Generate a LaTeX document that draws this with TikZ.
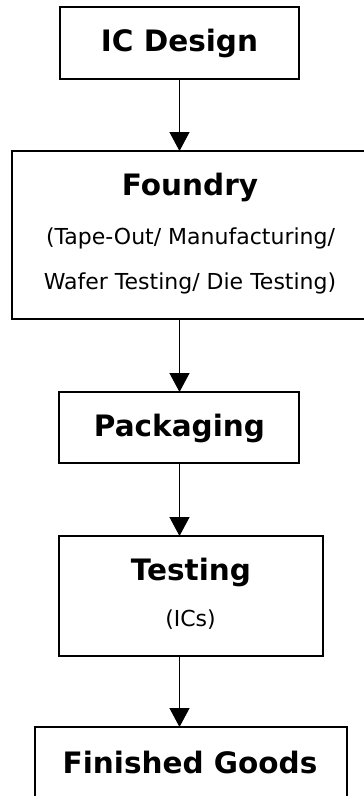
\documentclass[tikz,border=0pt]{standalone}
\usepackage{fontspec}
\setmainfont{DejaVu Sans}
\usetikzlibrary{arrows.meta}
\begin{document}
\begin{tikzpicture}[x=1pt,y=-1pt,
  box/.style={draw=black,line width=1.3pt,fill=white,inner sep=0pt},
  title/.style={font=\bfseries\fontsize{29.5}{31}\selectfont,inner sep=0pt},
  sub/.style={font=\fontsize{22}{24}\selectfont,inner sep=0pt},
  flow/.style={line width=1.2pt,-{Triangle[width=20pt,length=19pt]},shorten >=0pt}]
\clip (0,0) rectangle (364,796);
\fill[white] (0,0) rectangle (364,796);
% boxes
\draw[box] (60,7) rectangle (299,79);
\coordinate (b1) at (179.5,79);
\draw[box] (12,151) rectangle (370,319);
\coordinate (t2) at (179.5,151);
\coordinate (b2) at (179.5,319);
\draw[box] (59,392) rectangle (299,463);
\coordinate (t3) at (179.5,392);
\coordinate (b3) at (179.5,463);
\draw[box] (59,536) rectangle (323,656);
\coordinate (t4) at (179.5,536);
\coordinate (b4) at (179.5,656);
\draw[box] (35,727) rectangle (347,810);
\coordinate (t5) at (179.5,727);
% texts
\node[title] (n1) at (179.5,43) {IC Design};
\node[title] (n2) at (190,187) {Foundry};
\node[sub] (n2a) at (190.5,238) {(Tape-Out/ Manufacturing/};
\node[sub] (n2b) at (190,283) {Wafer Testing/ Die Testing)};
\node[title] (n3) at (179.5,428) {Packaging};
\node[title] (n4) at (191,572) {Testing};
\node[sub] (n4a) at (190.5,620) {(ICs)};
\node[title] (n5) at (190,762) {Finished Goods};
% arrows
\draw[flow] (b1) -- (t2);
\draw[flow] (b2) -- (t3);
\draw[flow] (b3) -- (t4);
\draw[flow] (b4) -- (t5);
\end{tikzpicture}
\end{document}
